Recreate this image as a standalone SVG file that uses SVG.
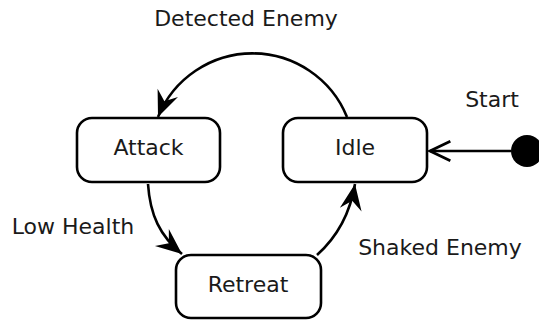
<svg xmlns="http://www.w3.org/2000/svg" width="539" height="320" viewBox="0 0 539 320">
  <style>
    .state rect { fill: #ffffff; stroke: #000000; stroke-width: 2.6; }
    .label { font-family: "DejaVu Sans", "Liberation Sans", sans-serif; font-size: 22px; fill: #1a1a1a; text-anchor: middle; }
    .edge { fill: none; stroke: #000000; stroke-width: 2.6; }
  </style>
  <defs>
    <!-- filled, notched arrowhead for transitions -->
    <marker id="arrow" markerUnits="userSpaceOnUse" markerWidth="32" markerHeight="32" refX="0" refY="0" viewBox="-28 -14 32 28" orient="auto">
      <path d="M0,0 L-26,-11 L-17,0 L-26,11 Z" fill="#000000"/>
    </marker>
    <!-- open arrowhead for the initial transition -->
    <marker id="open" markerUnits="userSpaceOnUse" markerWidth="30" markerHeight="30" refX="0" refY="0" viewBox="-24 -12 28 24" orient="auto">
      <path d="M-19,-9 L0,0 L-19,9" fill="none" stroke="#000000" stroke-width="2.6"/>
    </marker>
  </defs>

  <!-- transitions -->
  <g id="connectors">
    <path class="edge" d="M347,117 A102,102 0 0 0 158,117" marker-end="url(#arrow)"/>
    <path class="edge" d="M148,184 C150,215 160,236 182,254" marker-end="url(#arrow)"/>
    <path class="edge" d="M317,255 C336,238 350,214 355,184" marker-end="url(#arrow)"/>
    <line class="edge" x1="511" y1="151" x2="430" y2="151" marker-end="url(#open)"/>
  </g>

  <!-- states -->
  <g id="attack" class="state">
    <rect x="77" y="118" width="143" height="64" rx="15"/>
    <text class="label" x="148.5" y="155">Attack</text>
  </g>
  <g id="idle" class="state">
    <rect x="283" y="118" width="144" height="64" rx="15"/>
    <text class="label" x="355" y="155">Idle</text>
  </g>
  <g id="retreat" class="state">
    <rect x="176" y="255" width="145" height="63" rx="15"/>
    <text class="label" x="248" y="292">Retreat</text>
  </g>
  <g id="start">
    <circle cx="527" cy="151" r="16" fill="#000000"/>
  </g>

  <!-- transition labels -->
  <g id="labels">
    <text class="label" x="246" y="26">Detected Enemy</text>
    <text class="label" x="492" y="107">Start</text>
    <text class="label" x="73" y="234">Low Health</text>
    <text class="label" x="440" y="255">Shaked Enemy</text>
  </g>
</svg>
